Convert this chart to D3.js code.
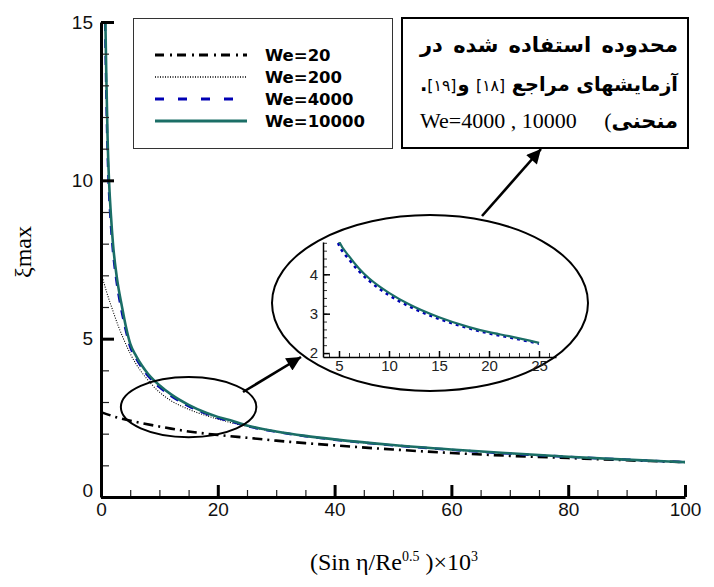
<!DOCTYPE html>
<html>
<head>
<meta charset="utf-8">
<script src="https://cdn.jsdelivr.net/npm/d3@7"></script>
<style>
  html, body { margin: 0; padding: 0; background: #fff; }
  svg { display: block; }
</style>
</head>
<body>
<svg id="chart" width="714" height="587"></svg>
<script>
// ---- data: ξmax against (Sin η / Re^0.5)·10^3 for four Weber numbers ----
const seriesNames = ["We=20", "We=200", "We=4000", "We=10000"];

const x20 = [0, 3, 6, 9, 12, 15, 20, 25, 30, 35, 40, 50, 60, 70, 80, 90, 100];
const y20 = [2.68, 2.5, 2.37, 2.26, 2.16, 2.07, 1.96, 1.87, 1.78, 1.7, 1.63, 1.5, 1.39, 1.3, 1.23, 1.16, 1.1];

const x200 = [0, 1, 2, 3, 4, 5, 6, 7, 8, 10, 12, 15, 18, 20, 25, 30, 35, 40, 50, 60, 70, 80, 90, 100];
const y200 = [7.1, 6.45, 5.9, 5.38, 4.93, 4.53, 4.2, 3.93, 3.7, 3.31, 3.04, 2.77, 2.57, 2.46, 2.23, 2.06, 1.92, 1.81, 1.63, 1.49, 1.37, 1.27, 1.18, 1.1];

const x4000 = [0.7, 0.88, 1.08, 1.33, 1.65, 2, 2.65, 3.5, 4.2, 5, 6, 7, 8, 9, 10, 12, 15, 18, 20, 22, 25, 30, 35, 40, 50, 60, 70, 80, 90, 100];
const y4000 = [15, 13, 11.2, 9.8, 8.7, 7.85, 6.82, 5.9, 5.3, 4.74, 4.38, 4.08, 3.84, 3.64, 3.47, 3.19, 2.87, 2.63, 2.5, 2.4, 2.24, 2.06, 1.92, 1.81, 1.63, 1.49, 1.37, 1.27, 1.18, 1.1];

const x10000 = [0.75, 0.92, 1.12, 1.37, 1.7, 2.05, 2.7, 3.6, 4.3, 5, 6, 7, 8, 9, 10, 12, 15, 18, 20, 22, 25, 30, 35, 40, 50, 60, 70, 80, 90, 100];
const y10000 = [15, 13.2, 11.4, 10, 8.9, 8, 6.95, 6, 5.35, 4.84, 4.46, 4.15, 3.9, 3.7, 3.53, 3.24, 2.91, 2.66, 2.53, 2.43, 2.26, 2.07, 1.93, 1.82, 1.64, 1.5, 1.38, 1.27, 1.18, 1.1];

// tick values
const xMajorTicks = [0, 20, 40, 60, 80, 100];
const xMinorTicks = d3.range(0, 101, 5);
const yMajorTicks = [0, 5, 10, 15];
const yMinorTicks = d3.range(0, 16, 1);
const insetXTicks = [5, 10, 15, 20, 25];
const insetXMinor = d3.range(4, 27, 1);
const insetYTicks = [2, 3, 4];
const insetYMinor = d3.range(2, 4.81, 0.2);

// ---- styles ----
const styles = {
  "We=20":    { color: "#000000", width: 2.6, dash: "10,5,2,5", legendDash: "9,6,2,5" },
  "We=200":   { color: "#000000", width: 1.1, dash: "1,1.5",    legendDash: "1,1.5" },
  "We=4000":  { color: "#0000b4", width: 2.4, dash: "9,8",      legendDash: "9,14" },
  "We=10000": { color: "#1b6e66", width: 2.6, dash: null,        legendDash: null }
};

const series = [
  { name: "We=20",    pts: x20.map((v, i) => [v, y20[i]]) },
  { name: "We=200",   pts: x200.map((v, i) => [v, y200[i]]) },
  { name: "We=4000",  pts: x4000.map((v, i) => [v, y4000[i]]) },
  { name: "We=10000", pts: x10000.map((v, i) => [v, y10000[i]]) }
];

const svg = d3.select("#chart");
const defs = svg.append("defs");

// ---- main scales ----
const x = d3.scaleLinear().domain([0, 100]).range([101, 685]);
const y = d3.scaleLinear().domain([0, 15]).range([497, 22]);

defs.append("clipPath").attr("id", "plotClip")
  .append("rect")
  .attr("x", x(0)).attr("y", y(15))
  .attr("width", x(100) - x(0)).attr("height", y(0) - y(15));

const line = d3.line()
  .x(d => x(d[0])).y(d => y(d[1]))
  .curve(d3.curveMonotoneX);

const curves = svg.append("g").attr("clip-path", "url(#plotClip)");
series.forEach(s => {
  const st = styles[s.name];
  curves.append("path")
    .datum(s.pts)
    .attr("d", line)
    .attr("fill", "none")
    .attr("stroke", st.color)
    .attr("stroke-width", st.width)
    .attr("stroke-dasharray", st.dash)
    .attr("stroke-linejoin", "round");
});

// ---- main axes ----
const tickFont = "'Liberation Sans', Arial, sans-serif";

const gyMinor = svg.append("g").attr("transform", `translate(${x(0)},0)`)
  .call(d3.axisLeft(y).tickValues(yMinorTicks).tickSize(-8).tickFormat(""));
gyMinor.select(".domain").remove();
gyMinor.selectAll(".tick line").attr("stroke", "#222").attr("stroke-width", 1.2);

const gy = svg.append("g").attr("transform", `translate(${x(0)},0)`)
  .call(d3.axisLeft(y).tickValues(yMajorTicks).tickSize(-13).tickSizeOuter(0).tickPadding(8));
gy.select(".domain").attr("stroke", "#000").attr("stroke-width", 3);
gy.selectAll(".tick line").attr("stroke", "#000").attr("stroke-width", 3);
gy.selectAll(".tick text")
  .attr("font-family", tickFont).attr("font-size", 19).attr("fill", "#111")
  .attr("dy", d => d === 0 ? "-0.05em" : "0.32em");

const gxMinor = svg.append("g").attr("transform", `translate(0,${y(0)})`)
  .call(d3.axisBottom(x).tickValues(xMinorTicks).tickSize(-7).tickFormat(""));
gxMinor.select(".domain").remove();
gxMinor.selectAll(".tick line").attr("stroke", "#222").attr("stroke-width", 1.2);

const gx = svg.append("g").attr("transform", `translate(0,${y(0)})`)
  .call(d3.axisBottom(x).tickValues(xMajorTicks).tickSize(-12).tickSizeOuter(0).tickPadding(6));
gx.select(".domain").attr("stroke", "#000").attr("stroke-width", 3);
gx.selectAll(".tick line").attr("stroke", "#000").attr("stroke-width", 3);
gx.selectAll(".tick text")
  .attr("font-family", tickFont).attr("font-size", 19).attr("fill", "#111");

// ---- axis titles ----
svg.append("text")
  .attr("transform", "translate(31,252) rotate(-90)")
  .attr("text-anchor", "middle")
  .attr("font-family", "'Liberation Serif', 'Times New Roman', serif")
  .attr("font-size", 24)
  .text("ξmax");

const xt = svg.append("text")
  .attr("x", 394).attr("y", 570)
  .attr("text-anchor", "middle")
  .attr("font-family", "'Liberation Serif', 'Times New Roman', serif")
  .attr("font-size", 24);
xt.append("tspan").text("(Sin η/Re");
xt.append("tspan").attr("font-size", 14).attr("dy", -9).text("0.5");
xt.append("tspan").attr("dy", 9).text(" )×10");
xt.append("tspan").attr("font-size", 14).attr("dy", -9).text("3");

// ---- legend ----
svg.append("rect")
  .attr("x", 133.5).attr("y", 18.5).attr("width", 259).attr("height", 130)
  .attr("fill", "#fff").attr("stroke", "#333").attr("stroke-width", 1);

const legendRowY = [55, 77, 99, 121];
seriesNames.forEach((name, i) => {
  const st = styles[name];
  const ly = legendRowY[i];
  svg.append("line")
    .attr("x1", 155).attr("x2", 247).attr("y1", ly).attr("y2", ly)
    .attr("stroke", st.color)
    .attr("stroke-width", name === "We=200" ? 1.3 : (name === "We=20" ? 3 : 2.8))
    .attr("stroke-dasharray", st.legendDash);
  svg.append("text")
    .attr("x", 265).attr("y", ly + 6)
    .attr("font-family", "'DejaVu Sans', Verdana, sans-serif")
    .attr("font-weight", "bold")
    .attr("font-size", 16.5)
    .attr("fill", "#000")
    .text(name);
});

// ---- annotation box (Persian note) ----
svg.append("rect")
  .attr("x", 402).attr("y", 18).attr("width", 286).attr("height", 130)
  .attr("fill", "#fff").attr("stroke", "#000").attr("stroke-width", 2);

const boxLeft = 420, boxRight = 678;
const faFont = "'DejaVu Sans', sans-serif";
const latinSerif = "'Liberation Serif', 'Times New Roman', serif";

// Lays out the pieces of one line right-to-left, spreading the spare room evenly;
// the whole line is scaled down if the pieces would not fit with a normal word gap.
function justifyLine(pieces, baseline, baseSize) {
  const minGap = 6;
  let scale = 1;
  let nodes, widths, gap;
  const free = pieces.slice(0, -1).filter(p => p.gap === undefined).length;
  const fixed = d3.sum(pieces.slice(0, -1).filter(p => p.gap !== undefined), p => p.gap);
  for (let k = 0; k < 12; k++) {
    if (nodes) nodes.forEach(n => n.remove());
    nodes = pieces.map(p => svg.append("text")
      .attr("y", baseline)
      .attr("text-anchor", "end")
      .attr("font-family", p.font || faFont)
      .attr("font-weight", p.bold === false ? "normal" : "bold")
      .attr("font-size", (p.size || baseSize) * scale)
      .attr("fill", "#000")
      .text(p.text));
    widths = nodes.map(n => n.node().getComputedTextLength());
    gap = free > 0 ? (boxRight - boxLeft - d3.sum(widths) - fixed) / free : 0;
    if (gap >= minGap || free === 0) break;
    scale *= 0.96;
  }
  let xr = boxRight;
  nodes.forEach((n, i) => {
    n.attr("x", xr);
    xr -= widths[i] + (pieces[i].gap !== undefined ? pieces[i].gap : gap);
  });
}

justifyLine([
  { text: "محدوده" }, { text: "استفاده" }, { text: "شده" }, { text: "در" }
], 52, 21);

justifyLine([
  { text: "آزمایشهای" }, { text: "مراجع" },
  { text: "[۱۸]", bold: false, size: 17 },
  { text: "و", gap: 1 },
  { text: "[۱۹]", bold: false, size: 17, gap: 0 },
  { text: "." }
], 91, 21);

justifyLine([
  { text: "منحنی", gap: 0 },
  { text: "(", font: latinSerif, bold: false, size: 22 },
  { text: "We=4000 , 10000", font: latinSerif, bold: false, size: 22 }
], 128, 21);

// ---- annotation ellipses and arrows ----
svg.append("ellipse")
  .attr("cx", x(15)).attr("cy", y(2.84))
  .attr("rx", x(11.6) - x(0)).attr("ry", y(0) - y(0.95))
  .attr("fill", "none").attr("stroke", "#000").attr("stroke-width", 2);

svg.append("ellipse")
  .attr("cx", 430).attr("cy", 303).attr("rx", 158).attr("ry", 88)
  .attr("fill", "#fff").attr("stroke", "#000").attr("stroke-width", 2);

defs.append("marker")
  .attr("id", "head").attr("viewBox", "0 0 10 10")
  .attr("refX", 10).attr("refY", 5)
  .attr("markerWidth", 6.5).attr("markerHeight", 5.5)
  .attr("markerUnits", "strokeWidth")
  .attr("orient", "auto")
  .append("path").attr("d", "M0,0 L10,5 L0,10 Z").attr("fill", "#000");

svg.append("line")
  .attr("x1", 243).attr("y1", 392).attr("x2", 301).attr("y2", 357)
  .attr("stroke", "#000").attr("stroke-width", 2.6)
  .attr("marker-end", "url(#head)");

svg.append("line")
  .attr("x1", 482).attr("y1", 216).attr("x2", 541).attr("y2", 149)
  .attr("stroke", "#000").attr("stroke-width", 2.6)
  .attr("marker-end", "url(#head)");

// ---- inset: close-up of the two high-We curves ----
const xi = d3.scaleLinear().domain([3.4, 26.7]).range([323, 556]);
const yi = d3.scaleLinear().domain([1.9, 4.82]).range([357, 242]);

defs.append("clipPath").attr("id", "insetClip")
  .append("rect")
  .attr("x", xi(3.4)).attr("y", yi(4.82))
  .attr("width", xi(26.7) - xi(3.4)).attr("height", yi(1.9) - yi(4.82));

const insetLine = d3.line()
  .x(d => xi(d[0])).y(d => yi(d[1]))
  .curve(d3.curveMonotoneX);

const insetG = svg.append("g").attr("clip-path", "url(#insetClip)");
insetG.append("path")
  .datum(series[2].pts.filter(d => d[0] >= 4 && d[0] <= 26.5))
  .attr("d", insetLine)
  .attr("fill", "none").attr("stroke", styles["We=4000"].color)
  .attr("stroke-width", 2.6).attr("stroke-dasharray", "3,4");
insetG.append("path")
  .datum(series[3].pts.filter(d => d[0] >= 4 && d[0] <= 26.5))
  .attr("d", insetLine)
  .attr("fill", "none").attr("stroke", styles["We=10000"].color)
  .attr("stroke-width", 2.2);

const iyMinor = svg.append("g").attr("transform", `translate(${xi(3.4)},0)`)
  .call(d3.axisLeft(yi).tickValues(insetYMinor).tickSize(-4).tickFormat(""));
iyMinor.select(".domain").remove();
iyMinor.selectAll(".tick line").attr("stroke", "#333").attr("stroke-width", 1);

const iy = svg.append("g").attr("transform", `translate(${xi(3.4)},0)`)
  .call(d3.axisLeft(yi).tickValues(insetYTicks).tickSize(-7).tickSizeOuter(0)
    .tickPadding(5).tickFormat(d3.format("d")));
iy.select(".domain").attr("stroke", "#000").attr("stroke-width", 1.5);
iy.selectAll(".tick line").attr("stroke", "#000").attr("stroke-width", 1.5);
iy.selectAll(".tick text").attr("font-family", tickFont).attr("font-size", 15).attr("fill", "#222");

const ixMinor = svg.append("g").attr("transform", `translate(0,${yi(1.9)})`)
  .call(d3.axisBottom(xi).tickValues(insetXMinor).tickSize(-4).tickFormat(""));
ixMinor.select(".domain").remove();
ixMinor.selectAll(".tick line").attr("stroke", "#333").attr("stroke-width", 1);

const ix = svg.append("g").attr("transform", `translate(0,${yi(1.9)})`)
  .call(d3.axisBottom(xi).tickValues(insetXTicks).tickSize(-6).tickSizeOuter(0)
    .tickPadding(3).tickFormat(d3.format("d")));
ix.select(".domain").attr("stroke", "#000").attr("stroke-width", 1.5);
ix.selectAll(".tick line").attr("stroke", "#000").attr("stroke-width", 1.5);
ix.selectAll(".tick text").attr("font-family", tickFont).attr("font-size", 15).attr("fill", "#222");
</script>
</body>
</html>
